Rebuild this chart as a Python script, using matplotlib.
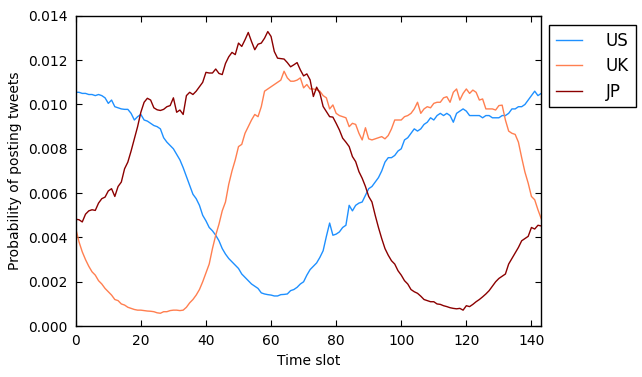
import numpy as np
import matplotlib
matplotlib.use("Agg")
import matplotlib.pyplot as plt

# values, in units of 1e-3, one per time slot (0..143)
us = [10.55, 10.55, 10.5, 10.5, 10.45, 10.45, 10.4, 10.45, 10.4, 10.3,
      10.05, 10.2, 9.9, 9.85, 9.8, 9.78, 9.78, 9.6, 9.3, 9.45,
      9.55, 9.3, 9.25, 9.15, 9.05, 9.0, 8.9, 8.5, 8.3, 8.15,
      8.0, 7.75, 7.5, 7.15, 6.75, 6.35, 5.95, 5.75, 5.45, 5.0,
      4.75, 4.45, 4.3, 4.1, 3.85, 3.5, 3.25, 3.05, 2.9, 2.75,
      2.6, 2.35, 2.2, 2.05, 1.9, 1.8, 1.7, 1.5, 1.45, 1.42,
      1.4, 1.36, 1.36, 1.42, 1.43, 1.45, 1.6, 1.65, 1.75, 1.9,
      2.0, 2.3, 2.55, 2.7, 2.85, 3.1, 3.4, 4.05, 4.65, 4.1,
      4.15, 4.25, 4.45, 4.55, 5.45, 5.2, 5.45, 5.55, 5.6, 5.9,
      6.2, 6.3, 6.5, 6.7, 7.0, 7.4, 7.6, 7.6, 7.7, 7.9,
      8.0, 8.4, 8.5, 8.7, 8.9, 8.8, 8.9, 9.1, 9.2, 9.4,
      9.3, 9.5, 9.6, 9.5, 9.6, 9.5, 9.2, 9.6, 9.7, 9.8,
      9.7, 9.5, 9.5, 9.5, 9.5, 9.4, 9.5, 9.5, 9.4, 9.4,
      9.4, 9.5, 9.5, 9.6, 9.8, 9.8, 9.9, 9.9, 10.0, 10.2,
      10.4, 10.6, 10.4, 10.5]

uk = [4.4, 3.8, 3.35, 3.0, 2.7, 2.45, 2.3, 2.05, 1.9, 1.7,
      1.55, 1.4, 1.2, 1.15, 1.0, 0.95, 0.85, 0.8, 0.75, 0.72,
      0.72, 0.7, 0.68, 0.67, 0.65, 0.6, 0.58, 0.65, 0.65, 0.7,
      0.72, 0.72, 0.7, 0.72, 0.85, 1.05, 1.2, 1.4, 1.65, 2.0,
      2.4, 2.8, 3.5, 4.1, 4.6, 5.2, 5.6, 6.4, 7.0, 7.5,
      8.1, 8.2, 8.7, 9.0, 9.3, 9.55, 9.45, 9.9, 10.6, 10.7,
      10.8, 10.9, 11.0, 11.1, 11.5, 11.2, 11.05, 11.05, 11.1, 11.2,
      10.75, 10.9, 10.7, 10.7, 10.66, 10.6, 10.4, 10.3, 9.8, 9.98,
      9.6, 9.5, 9.45, 9.4, 9.0, 9.15, 9.1, 8.7, 8.4, 8.95,
      8.45, 8.4, 8.45, 8.5, 8.55, 8.45, 8.6, 8.9, 9.3, 9.3,
      9.3, 9.45, 9.5, 9.6, 9.8, 10.1, 9.6, 9.8, 9.9, 9.85,
      10.05, 10.1, 10.1, 10.3, 10.35, 10.1, 10.55, 10.7, 10.2, 10.5,
      10.7, 10.5, 10.65, 10.55, 10.2, 10.25, 9.8, 9.8, 9.8, 9.75,
      9.95, 9.97, 9.3, 8.8, 8.7, 8.65, 8.3, 7.6, 6.95, 6.45,
      5.85, 5.7, 5.25, 4.85]

jp = [4.82, 4.8, 4.7, 5.05, 5.2, 5.25, 5.22, 5.55, 5.75, 5.82,
      6.1, 6.2, 5.85, 6.3, 6.5, 7.1, 7.4, 7.9, 8.45, 9.0,
      9.65, 10.1, 10.28, 10.2, 9.85, 9.76, 9.73, 9.78, 9.9, 9.95,
      10.3, 9.65, 9.75, 9.55, 10.4, 10.55, 10.45, 10.6, 10.8, 11.0,
      11.45, 11.42, 11.42, 11.6, 11.4, 11.35, 11.85, 12.15, 12.35, 12.25,
      12.77, 12.62, 12.92, 13.25, 12.84, 12.47, 12.72, 12.77, 12.99, 13.29,
      13.07, 12.39, 12.09, 12.07, 12.05, 11.89, 11.7, 11.79, 11.89, 11.56,
      11.29, 11.38, 11.11, 10.36, 10.78, 10.51, 9.91, 9.68, 9.45, 9.43,
      9.15, 8.85, 8.48, 8.3, 8.1, 7.65, 7.42, 6.97, 6.67, 6.3,
      5.85, 5.6, 5.0, 4.45, 3.95, 3.5, 3.2, 2.95, 2.8, 2.5,
      2.3, 2.05, 1.9, 1.65, 1.55, 1.48, 1.35, 1.2, 1.15, 1.1,
      1.1, 1.0, 0.98, 0.92, 0.88, 0.83, 0.8, 0.78, 0.8, 0.72,
      0.92, 0.88, 0.98, 1.1, 1.2, 1.32, 1.45, 1.6, 1.8, 2.0,
      2.15, 2.25, 2.35, 2.8, 3.05, 3.3, 3.55, 3.85, 3.95, 4.05,
      4.45, 4.38, 4.55, 4.52]

labels = ["US", "UK", "JP"]
colors = ["dodgerblue", "coral", "darkred"]

slots = np.arange(len(us))

fig = plt.figure(figsize=(6.42, 3.77), dpi=100)
ax = fig.add_axes([0.118, 0.135, 0.725, 0.823])

for series, lab, col in zip([us, uk, jp], labels, colors):
    ax.plot(slots, np.array(series) / 1000.0, color=col, lw=1.0, label=lab)

ax.set_xlim(0, 143)
ax.set_ylim(0, 0.014)
ax.set_xticks(np.arange(0, 141, 20))
ax.set_yticks(np.arange(0, 0.0141, 0.002))
ax.yaxis.set_major_formatter(matplotlib.ticker.FormatStrFormatter("%.3f"))
ax.tick_params(direction="in", top=True, right=True, length=4, labelsize=10, pad=6)
for sp in ax.spines.values():
    sp.set_linewidth(1.0)

ax.set_xlabel("Time slot", fontsize=10)
ax.set_ylabel("Probability of posting tweets", fontsize=10)

leg = ax.legend(loc="upper left", bbox_to_anchor=(1.017, 0.97), fontsize=12,
                fancybox=False, edgecolor="black", framealpha=1,
                handlelength=1.6, handletextpad=1.4, borderpad=0.4,
                labelspacing=0.45, borderaxespad=0)
leg.get_frame().set_linewidth(1.0)

fig.savefig("out.png", dpi=100)
